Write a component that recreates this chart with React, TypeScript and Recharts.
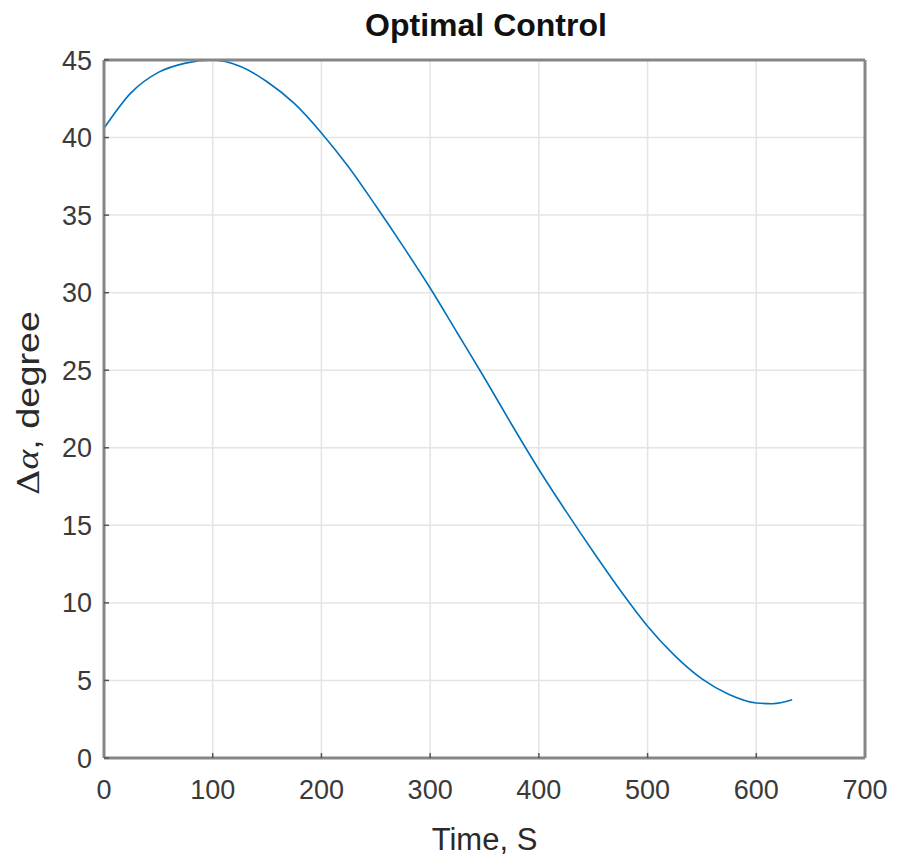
import { CartesianGrid, Label, Line, LineChart, XAxis, YAxis } from "recharts";

// control angle history, sampled every 25 s
const timeS = [
  0, 25, 50, 75, 100, 125, 150, 175, 200, 225, 250, 275, 300, 325, 350, 375,
  400, 425, 450, 475, 500, 525, 550, 575, 600, 615, 633,
];
const deltaAlpha = [
  40.6, 42.9, 44.2, 44.8, 45.0, 44.6, 43.6, 42.2, 40.3, 38.1, 35.6, 33.0, 30.3,
  27.4, 24.5, 21.5, 18.6, 15.9, 13.3, 10.8, 8.5, 6.6, 5.1, 4.1, 3.55, 3.5, 3.75,
];

const xTicks = [0, 100, 200, 300, 400, 500, 600, 700];
const yTicks = [0, 5, 10, 15, 20, 25, 30, 35, 40, 45];

const chartData = timeS.map((t, i) => ({ t, v: deltaAlpha[i] }));

const FONT = "'Liberation Sans', Arial, Helvetica, sans-serif";
const FRAME = "#868686";
const tickStyle = { fontSize: 27, fill: "#3a3a3a", fontFamily: FONT };

// y label is drawn a bit stretched along its length, like the exported figure
function YLabel({ viewBox }: any) {
  const cx = 31;
  const cy = viewBox.y + viewBox.height / 2 - 6;
  return (
    <text
      x={0}
      y={0}
      transform={`translate(${cx} ${cy}) rotate(-90) scale(1.22 1)`}
      textAnchor="middle"
      dominantBaseline="middle"
      fontSize={31}
      fill="#2a2a2a"
      fontFamily={FONT}
    >
      <tspan fontFamily="'DejaVu Serif', 'Liberation Serif', serif" fontSize={29}>
        Δ
      </tspan>
      <tspan
        fontFamily="'Liberation Serif', 'DejaVu Serif', serif"
        fontStyle="italic"
        fontSize={31}
      >
        α
      </tspan>
      <tspan>, degree</tspan>
    </text>
  );
}

export default function App() {
  return (
    <div style={{ position: "absolute", left: 0, top: 0, background: "#fff" }}>
      <LineChart
        width={898}
        height={860}
        data={chartData}
        margin={{ top: 59, right: 32, bottom: 72, left: 44 }}
      >
        <text
          x={486}
          y={36}
          textAnchor="middle"
          fontSize={32}
          fontWeight="bold"
          fill="#111"
          fontFamily={FONT}
        >
          Optimal Control
        </text>
        <CartesianGrid stroke="#e4e4e4" strokeWidth={1.5} />
        <XAxis
          dataKey="t"
          type="number"
          domain={[0, 700]}
          ticks={xTicks}
          height={30}
          tickSize={-5}
          tickMargin={27}
          tick={tickStyle}
          axisLine={{ stroke: FRAME, strokeWidth: 3 }}
          tickLine={{ stroke: "#555", strokeWidth: 1.5 }}
        >
          <Label
            value="Time, S"
            position="bottom"
            offset={40}
            fontSize={31}
            fill="#2a2a2a"
            fontFamily={FONT}
          />
        </XAxis>
        <XAxis
          xAxisId="top"
          orientation="top"
          type="number"
          domain={[0, 700]}
          ticks={xTicks}
          height={1}
          tickSize={-5}
          tick={false}
          axisLine={{ stroke: FRAME, strokeWidth: 3 }}
          tickLine={{ stroke: "#555", strokeWidth: 1.5 }}
        />
        <YAxis
          type="number"
          domain={[0, 45]}
          ticks={yTicks}
          width={60}
          tickSize={-5}
          tickMargin={17}
          tick={tickStyle}
          axisLine={{ stroke: FRAME, strokeWidth: 3 }}
          tickLine={{ stroke: "#555", strokeWidth: 1.5 }}
        >
          <Label content={YLabel} />
        </YAxis>
        <YAxis
          yAxisId="right"
          orientation="right"
          type="number"
          domain={[0, 45]}
          ticks={yTicks}
          width={1}
          tickSize={-5}
          tick={false}
          axisLine={{ stroke: FRAME, strokeWidth: 3 }}
          tickLine={{ stroke: "#555", strokeWidth: 1.5 }}
        />
        <Line
          type="monotone"
          dataKey="v"
          stroke="#0072BD"
          strokeWidth={1.6}
          dot={false}
          isAnimationActive={false}
        />
      </LineChart>
    </div>
  );
}
